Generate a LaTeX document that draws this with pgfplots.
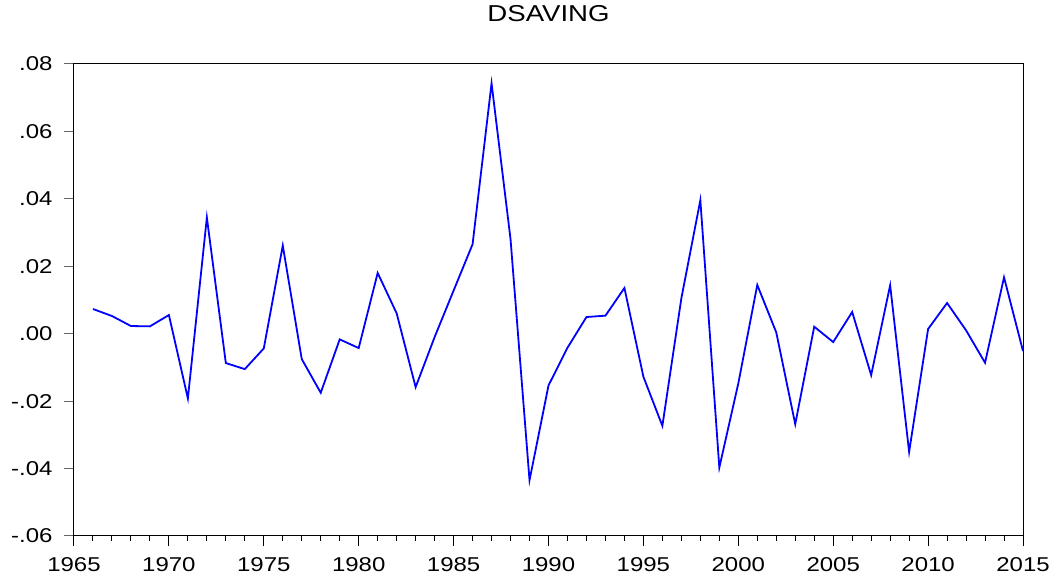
\documentclass[border=0pt]{standalone}
\usepackage{fontspec}
\setmainfont{Liberation Sans}
\usepackage{pgfplots}
\pgfplotsset{compat=1.18}
\begin{document}
\begin{tikzpicture}[x=1pt,y=1pt]
\useasboundingbox (0,0) rectangle (1061,581);
\begin{axis}[
  at={(74pt,45pt)}, anchor=south west,
  width=949pt, height=472pt, scale only axis,
  xmin=1965, xmax=2015, ymin=-0.06, ymax=0.08,
  xtick={1965,1970,...,2015},
  minor x tick num=4,
  ytick={-0.06,-0.04,-0.02,0,0.02,0.04,0.06,0.08},
  yticklabels={-.06,-.04,-.02,.00,.02,.04,.06,.08},
  xticklabels={1965,1970,1975,1980,1985,1990,1995,2000,2005,2010,2015},
  scaled y ticks=false, scaled x ticks=false,
  xtick pos=bottom, ytick pos=left,
  tick align=outside,
  major tick length=10pt, minor tick length=5pt,
  ytick style={gray!80!black, line width=1pt},
  xtick style={black, line width=1pt},
  axis line style={line width=1pt},
  /pgf/number format/assume math mode=true,
  tick label style={font=\fontsize{20}{24}\selectfont, xscale=1.2},
  yticklabel style={xshift=-6pt},
  xticklabel style={yshift=-8pt},
  title={DSAVING},
  title style={font=\fontsize{23}{28}\selectfont, xscale=1.2, at={(0.5,1)}, anchor=base, yshift=36pt},
]
\addplot[blue, line width=1.8pt] coordinates {
(1966,0.00733) (1967,0.00525) (1968,0.00228) (1969,0.00218) (1970,0.00554)
(1971,-0.0192) (1972,0.03446) (1973,-0.00871) (1974,-0.0105) (1975,-0.00436)
(1976,0.02614) (1977,-0.00752) (1978,-0.01752) (1979,-0.00168) (1980,-0.00426)
(1981,0.01802) (1982,0.00604) (1983,-0.01584) (1984,-0.0010) (1985,0.0128)
(1986,0.02653) (1987,0.07426) (1988,0.02802) (1989,-0.04347) (1990,-0.01535)
(1991,-0.00416) (1992,0.00495) (1993,0.00535) (1994,0.01356) (1995,-0.01277)
(1996,-0.02733) (1997,0.0105) (1998,0.0396) (1999,-0.0397) (2000,-0.01475)
(2001,0.01446) (2002,0.0004) (2003,-0.02683) (2004,0.00208) (2005,-0.00248)
(2006,0.00644) (2007,-0.01228) (2008,0.01436) (2009,-0.03505) (2010,0.00139)
(2011,0.00911) (2012,0.0010) (2013,-0.00861) (2014,0.01673) (2015,-0.00515)
};
\end{axis}
\end{tikzpicture}
\end{document}
